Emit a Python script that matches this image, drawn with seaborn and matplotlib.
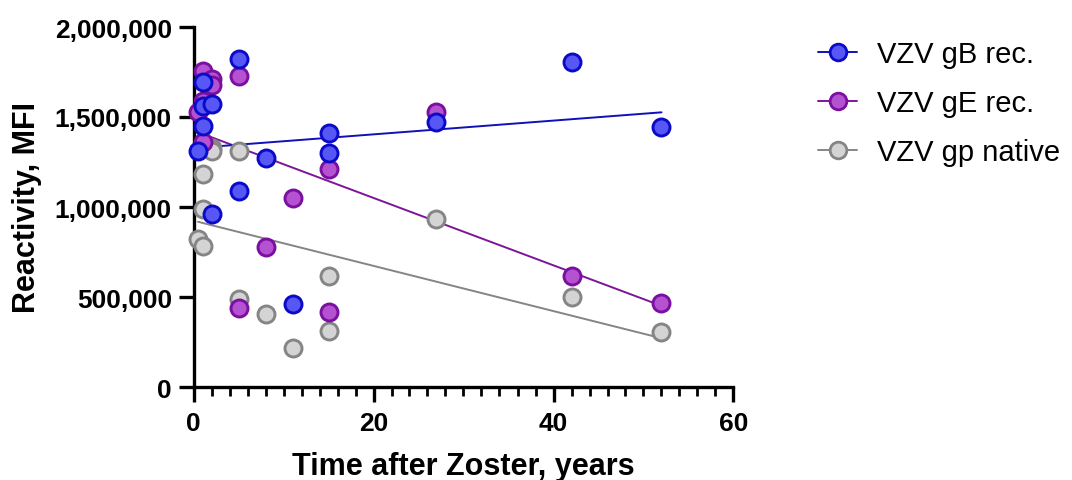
import numpy as np
import pandas as pd
import matplotlib
matplotlib.use("Agg")
import matplotlib.pyplot as plt
from matplotlib.lines import Line2D
from matplotlib.ticker import FuncFormatter, MultipleLocator
import seaborn as sns

# ---- data ----
gb_years = [0.5, 1, 1, 1, 2, 2, 5, 5, 8, 11, 15, 15, 27, 42, 52]
gb_mfi = [1309000, 1696000, 1563000, 1452000, 1572000, 961000, 1822000, 1091000,
          1271000, 461000, 1409000, 1298000, 1471000, 1804000, 1443000]

ge_years = [0.5, 1, 1, 1, 2, 2, 5, 5, 8, 11, 15, 15, 27, 42, 52]
ge_mfi = [1528000, 1757000, 1590000, 1363000, 1710000, 1680000, 1729000, 437000,
          776000, 1050000, 1211000, 418000, 1529000, 618000, 467000]

gp_years = [0.5, 1, 1, 1, 2, 2, 5, 5, 8, 11, 15, 15, 27, 42, 52]
gp_mfi = [822000, 1183000, 989000, 785000, 1330000, 1310000, 1313000, 489000,
          406000, 215000, 618000, 309000, 933000, 498000, 307000]

series_names = ["VZV gB rec.", "VZV gE rec.", "VZV gp native"]

df = pd.concat([
    pd.DataFrame({"years": gb_years, "mfi": gb_mfi, "antigen": series_names[0]}),
    pd.DataFrame({"years": ge_years, "mfi": ge_mfi, "antigen": series_names[1]}),
    pd.DataFrame({"years": gp_years, "mfi": gp_mfi, "antigen": series_names[2]}),
], ignore_index=True)

styles = {
    "VZV gB rec.": dict(face="#5757f5", edge="#0a0ac8", line="#1010b8"),
    "VZV gE rec.": dict(face="#b452d2", edge="#7a0fa0", line="#7d1599"),
    "VZV gp native": dict(face="#d4d4d4", edge="#858585", line="#858585"),
}

sns.set_theme(style="ticks")
plt.rcParams["font.family"] = ["Liberation Sans", "DejaVu Sans"]
plt.rcParams["text.color"] = "black"
plt.rcParams["axes.labelcolor"] = "black"

fig = plt.figure(figsize=(10.72, 4.81), dpi=100)
ax = fig.add_axes([193.5 / 1072, 1 - 388 / 481, 540 / 1072, 360 / 481])

draw_order = ["VZV gp native", "VZV gE rec.", "VZV gB rec."]
for i, name in enumerate(draw_order):
    sub = df[df["antigen"] == name]
    st = styles[name]
    sns.regplot(data=sub, x="years", y="mfi", ax=ax, scatter=False, ci=None,
                truncate=True, line_kws=dict(color=st["line"], lw=1.4, zorder=2))
for i, name in enumerate(draw_order):
    sub = df[df["antigen"] == name]
    st = styles[name]
    sns.scatterplot(data=sub, x="years", y="mfi", ax=ax, s=150, color=st["face"],
                    edgecolor=st["edge"], linewidth=2.1, zorder=3 + i,
                    clip_on=False, legend=False)

ax.set_xlim(0, 60)
ax.set_ylim(0, 2000000)
ax.xaxis.set_major_locator(MultipleLocator(20))
ax.xaxis.set_minor_locator(MultipleLocator(2))
ax.yaxis.set_major_locator(MultipleLocator(500000))
ax.yaxis.set_major_formatter(FuncFormatter(lambda v, p: f"{int(v):,}"))

for s in ["top", "right"]:
    ax.spines[s].set_visible(False)
for s in ["left", "bottom"]:
    ax.spines[s].set_linewidth(2.4)
    ax.spines[s].set_color("black")

ax.tick_params(axis="both", which="major", length=10.5, width=2.4, colors="black",
               labelsize=19)
ax.tick_params(axis="x", which="major", pad=7)
ax.tick_params(axis="y", which="major", pad=5)
ax.tick_params(axis="x", which="minor", length=6.5, width=2.0, colors="black")
for lab in ax.get_xticklabels() + ax.get_yticklabels():
    lab.set_fontweight("bold")

ax.set_xlabel("Time after Zoster, years", fontsize=22, fontweight="bold", labelpad=11)
ax.set_ylabel("Reactivity, MFI", fontsize=22, fontweight="bold", labelpad=9)

handles = [Line2D([0], [0], color=styles[n]["line"], lw=1.4, marker="o",
                  markersize=12, markerfacecolor=styles[n]["face"],
                  markeredgecolor=styles[n]["edge"], markeredgewidth=2.0)
           for n in series_names]
fig.legend(handles, series_names, loc="upper left",
           bbox_to_anchor=(818 / 1072, 1 - 41 / 481),
           frameon=False, fontsize=21, handlelength=1.34, labelspacing=0.72,
           handletextpad=0.69, borderaxespad=0, borderpad=0)

fig.savefig("out.png", dpi=100)
